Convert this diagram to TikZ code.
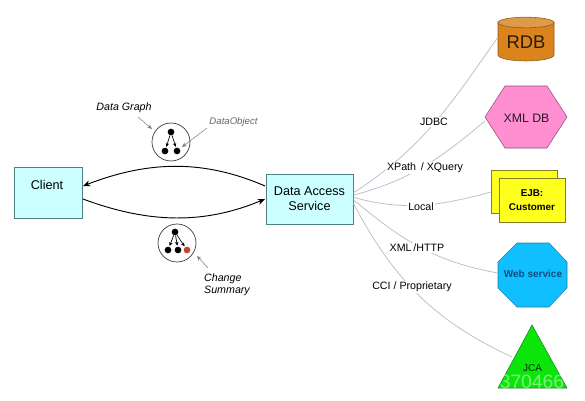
\documentclass[tikz,border=0pt]{standalone}
\usepackage{fontspec}
\setmainfont{Liberation Sans}
\usepackage{tikz}
\usetikzlibrary{arrows.meta}
\usetikzlibrary{topaths,calc}

\definecolor{boxcyan}{HTML}{CCFFFF}
\definecolor{boxline}{HTML}{4F7F80}
\definecolor{linkgray}{HTML}{B4BFCC}
\definecolor{rdbbody}{HTML}{DB831C}
\definecolor{rdbtop}{HTML}{DD9A4A}
\definecolor{rdbline}{HTML}{8A5A14}
\definecolor{xmlpink}{HTML}{FF8FD0}
\definecolor{xmlline}{HTML}{8A4F7A}
\definecolor{ejbyellow}{HTML}{FFFF1E}
\definecolor{ejbline}{HTML}{808020}
\definecolor{webblue}{HTML}{10BFFF}
\definecolor{webline}{HTML}{1F7FA0}
\definecolor{webtext}{HTML}{0B4C80}
\definecolor{jcagreen}{HTML}{0CE50C}
\definecolor{jcaline}{HTML}{1F8020}
\definecolor{changered}{HTML}{C0452C}

\begin{document}
\begin{tikzpicture}[
       x = 0.75pt, y = -0.75pt,
       box/.style = {draw=boxline, fill=boxcyan, align=center, inner sep=0pt,
                     font=\fontsize{9.5}{11.25}\selectfont},
       tag/.style = {fill=white, inner sep=0.8pt,
                     font=\fontsize{8}{10}\selectfont},
      note/.style = {inner sep=0pt, align=left,
                     font=\fontsize{8}{9}\selectfont\itshape},
     flow/.style = {draw=black, line width=0.7pt, -{Stealth[length=5.5pt,width=4.5pt]}},
   leader/.style = {draw=gray, line width=0.4pt, -{Stealth[length=3.5pt,width=3pt]}},
     ring/.style = {circle, draw=black!80, line width=0.5pt, fill=white,
                    minimum size=28.5pt, inner sep=0pt, node contents={}},
      dot/.style = {circle, fill=#1, inner sep=0pt, minimum size=5pt, node contents={}},
   branch/.style = {draw=black, line width=0.5pt, shorten >=0.5pt,
                    -{Stealth[length=3pt,width=2.6pt]}},
every edge/.style = {draw=linkgray, line width=0.55pt}
                        ]
    \useasboundingbox (0, 0) rectangle (585, 400);
    \fill[white] (0, 0) rectangle (585, 400);

    % The two end points of the conversation
    \node (client) at (48, 192.5) [box, minimum width=51pt, minimum height=38pt] {};
    \node (clientlabel) at (47, 185) [inner sep=0pt, font=\fontsize{9.5}{11.25}\selectfont] {Client};
    \node (service) at (309.5, 199) [box, minimum width=65.6pt, minimum height=37.5pt] {Data Access\\Service};

    % The sources on the right
    \filldraw[draw=rdbline, fill=rdbbody] (498, 22.5) -- (498, 55)
        arc[start angle=180, end angle=360, x radius=21pt, y radius=4.5pt] -- (554, 22.5) -- cycle;
    \filldraw[draw=rdbline, fill=rdbtop] (526, 22.5) ellipse [x radius=21pt, y radius=4pt];
    \node (rdb) at (526, 42) [text=black!70!rdbline, inner sep=0pt, font=\fontsize{13.8}{16}\selectfont] {RDB};

    \filldraw[draw=xmlline, fill=xmlpink] (485, 117) -- (505, 86) -- (547, 86)
        -- (567, 117) -- (547, 148) -- (505, 148) -- cycle;
    \node (xml) at (526.5, 118) [text=black!70!xmlline, inner sep=0pt, font=\fontsize{9.2}{12}\selectfont] {XML DB};

    \node (ejbback) at (524, 191.5) [draw=ejbline, fill=ejbyellow, minimum width=49.5pt, minimum height=32pt, inner sep=0pt] {};
    \node (ejb) at (532, 200) [draw=ejbline, fill=ejbyellow, minimum width=49.5pt, minimum height=33pt,
                               inner sep=0pt, align=center, font=\fontsize{7.4}{10.5}\selectfont\bfseries] {EJB:\\Customer};

    \filldraw[draw=webline, fill=webblue] (498, 262) -- (517, 243) -- (549, 243) -- (567, 262)
        -- (567, 288) -- (549, 307) -- (517, 307) -- (498, 288) -- cycle;
    \node (web) at (533, 274) [text=webtext, inner sep=0pt, font=\fontsize{7.5}{10}\selectfont\bfseries] {Web service};

    \filldraw[draw=jcaline, fill=jcagreen] (532, 325) -- (567, 388) -- (498, 388) -- cycle;
    \node (jca) at (532.5, 368) [text=black!70!jcaline, inner sep=0pt, font=\fontsize{7.5}{10}\selectfont] {JCA};

    % Links fanning out of the service
    \coordinate (rdbwest) at (498, 37);
    \coordinate (xmlwest) at (485, 121);
    \coordinate (ejbwest) at (491, 192);
    \coordinate (webwest) at (498, 273);
    \coordinate (jcawest) at (512, 357);
    \path (service.8) edge[out=33, in=-125] (rdbwest);
    \path (service.5) edge[out=15, in=-140] (xmlwest);
    \path (service.2) edge[out=-15, in=195] (ejbwest);
    \path (service.-1) edge[out=-40, in=170] (webwest);
    \path (service.-6) edge[out=-62, in=155] (jcawest);

    \node (jdbc) at (434, 122) [tag] {JDBC};
    \node (xpath) at (425, 168) [tag] {XPath\, / XQuery};
    \node (local) at (421, 207) [tag] {Local};
    \node (http) at (417, 248) [tag] {XML\,/HTTP};
    \node (cci) at (412, 287) [tag] {CCI / Proprietary};

    % Requests and responses
    \coordinate (sendin) at (83, 186);
    \coordinate (sendout) at (265, 186);
    \coordinate (backout) at (83, 199);
    \coordinate (backin) at (265, 199);
    \draw[flow] (sendout) .. controls (205, 160) and (150, 160) .. (sendin);
    \draw[flow] (backout) .. controls (150, 224) and (205, 224) .. (backin);

    % Data graph
    \node (graph) at (171, 142) [ring];
    \node (a) at (171, 132) [dot=black];
    \node (b) at (165, 151) [dot=black];
    \node (c) at (177, 151) [dot=black];
    \draw[branch] (a) -- (b);
    \draw[branch] (a) -- (c);

    % Change summary
    \node (summary) at (177, 243) [ring];
    \node (d) at (175, 232) [dot=black];
    \node (e) at (168, 250) [dot=black];
    \node (f) at (178, 250) [dot=black];
    \node (g) at (187, 250) [dot=changered];
    \draw[branch] (d) -- (e);
    \draw[branch] (d) -- (f);
    \draw[branch] (d) -- (g);

    % Notes around the graphs
    \node (graphnote) at (124, 108) [note] {Data Graph};
    \node (objectnote) at (233.5, 122) [note, text=black!60, font=\fontsize{7.2}{9}\selectfont\itshape] {DataObject};
    \node (changenote) at (227, 285) [note] {Change\\Summary};
    \coordinate (graphfoot) at (138, 117);
    \coordinate (objectfoot) at (207, 128);
    \coordinate (changefoot) at (208, 268);
    \coordinate (objecttip) at (182, 147);
    \coordinate (graphtip) at (152, 129);
    \coordinate (changetip) at (197, 256);
    \draw[leader] (graphfoot) -- (graphtip);
    \draw[leader] (objectfoot) -- (objecttip);
    \draw[leader] (changefoot) -- (changetip);

    % Faint mark over the corner
    \node (mark) at (532, 382) [text=white, opacity=0.45, inner sep=0pt, font=\fontsize{14.5}{15}\selectfont] {370466};
\end{tikzpicture}
\end{document}
